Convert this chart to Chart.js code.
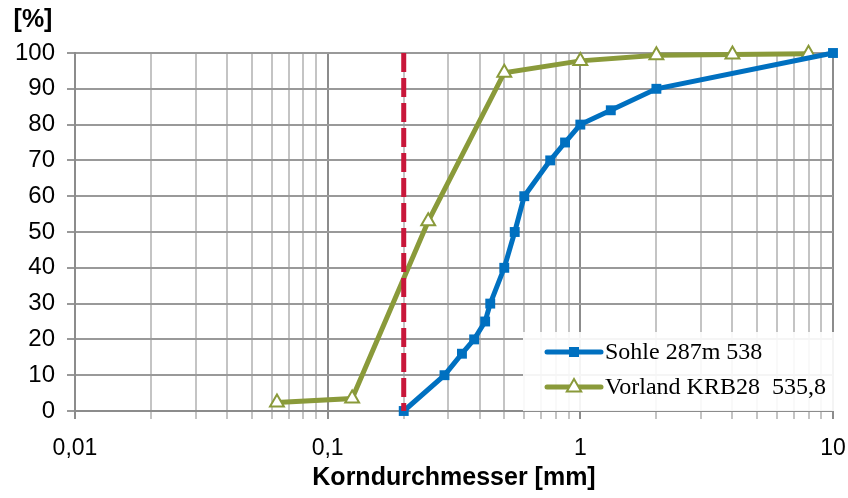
<!DOCTYPE html>
<html>
<head>
<meta charset="utf-8">
<script src="https://cdn.jsdelivr.net/npm/chart.js@4.4.1/dist/chart.umd.min.js"></script>
<style>
  html, body { margin: 0; padding: 0; background: #fff; }
  #wrap { width: 848px; height: 498px; }
</style>
</head>
<body>
<div id="wrap"><canvas id="c" width="848" height="498"></canvas></div>
<script>
// Grain size distribution (sieve curves)
const sohleLabel = 'Sohle 287m 538';
const sohleDiameter = [0.2, 0.29, 0.34, 0.38, 0.42, 0.44, 0.5, 0.55, 0.6, 0.76, 0.87, 1, 1.32, 2, 10];
const sohlePassing  = [0, 10, 16, 20, 25, 30, 40, 50, 60, 70, 75, 80, 84, 90, 100];

const vorlandLabel = 'Vorland KRB28  535,8';
const vorlandDiameter = [0.063, 0.125, 0.25, 0.5, 1, 2, 4, 8];
const vorlandPassing  = [2.4, 3.5, 53, 94.5, 97.8, 99.4, 99.6, 99.8];

// reference diameter marked with a dashed vertical line
const markerDiameter = [0.2, 0.2];
const markerPassing  = [100, 0];

const xTickValues = [0.01, 0.1, 1, 10];
const xTickLabels = ['0,01', '0,1', '1', '10'];

const BLUE = '#0070C0';
const GREEN = '#8A9A3A';
const RED = '#C8173A';

const toPoints = (xs, ys) => xs.map((x, i) => ({ x: x, y: ys[i] }));

// log gridlines: each decade plus 2..9 subdivisions
function logGridValues() {
  const vals = [];
  for (let d = 0; d < xTickValues.length - 1; d++) {
    const base = xTickValues[d];
    for (let m = 1; m <= 9; m++) vals.push(Number((base * m).toPrecision(6)));
  }
  vals.push(xTickValues[xTickValues.length - 1]);
  return vals;
}
const isDecade = v => xTickValues.some(t => Math.abs(t - v) < 1e-9);

const FONT = "'Liberation Sans', Arial, sans-serif";

const extras = {
  id: 'extras',
  afterDraw(chart) {
    const ctx = chart.ctx;
    ctx.save();
    ctx.fillStyle = '#000';
    ctx.font = 'bold 25px ' + FONT;
    ctx.textAlign = 'center';
    ctx.textBaseline = 'middle';
    ctx.fillText('[%]', 33, 20);
    ctx.restore();
  },
  afterDatasetsDraw(chart) {
    const ctx = chart.ctx;
    const box = { x: 523, y: 332, w: 315, h: 79 };
    ctx.save();
    ctx.fillStyle = 'rgba(255,255,255,0.9)';
    ctx.fillRect(box.x, box.y, box.w, box.h);
    [0, 1].forEach((di, k) => {
      const ds = chart.data.datasets[di];
      const cy = box.y + 20 + k * 35;
      const x0 = box.x + 24, x1 = box.x + 78;
      ctx.strokeStyle = ds.borderColor;
      ctx.lineWidth = ds.borderWidth;
      ctx.lineCap = 'round';
      ctx.beginPath();
      ctx.moveTo(x0, cy);
      ctx.lineTo(x1, cy);
      ctx.stroke();
      const cx = (x0 + x1) / 2;
      if (ds.pointStyle === 'rect') {
        ctx.fillStyle = ds.pointBackgroundColor;
        const s = 5;
        ctx.fillRect(cx - s, cy - s, 2 * s, 2 * s);
      } else {
        const r = 8;
        ctx.fillStyle = ds.pointBackgroundColor;
        ctx.strokeStyle = ds.pointBorderColor;
        ctx.lineWidth = ds.pointBorderWidth;
        ctx.beginPath();
        ctx.moveTo(cx, cy - r);
        ctx.lineTo(cx + r * 0.9, cy + r * 0.55);
        ctx.lineTo(cx - r * 0.9, cy + r * 0.55);
        ctx.closePath();
        ctx.fill();
        ctx.stroke();
      }
      ctx.fillStyle = '#000';
      ctx.font = "24px 'Liberation Serif', 'Times New Roman', serif";
      ctx.textAlign = 'left';
      ctx.textBaseline = 'middle';
      ctx.fillText(ds.label, x1 + 4, cy + 1);
    });
    ctx.restore();
  }
};

new Chart(document.getElementById('c'), {
  type: 'line',
  data: {
    datasets: [
      {
        label: sohleLabel,
        data: toPoints(sohleDiameter, sohlePassing),
        borderColor: BLUE,
        backgroundColor: BLUE,
        borderWidth: 5,
        pointStyle: 'rect',
        pointRadius: 7,
        pointBackgroundColor: BLUE,
        pointBorderColor: BLUE,
        pointBorderWidth: 0,
        tension: 0,
        clip: false,
        order: 2
      },
      {
        label: vorlandLabel,
        data: toPoints(vorlandDiameter, vorlandPassing),
        borderColor: GREEN,
        backgroundColor: GREEN,
        borderWidth: 5,
        pointStyle: 'triangle',
        pointRadius: 8,
        pointBackgroundColor: '#fff',
        pointBorderColor: GREEN,
        pointBorderWidth: 2,
        tension: 0,
        clip: false,
        order: 3
      },
      {
        label: 'marker',
        data: toPoints(markerDiameter, markerPassing),
        borderColor: RED,
        borderWidth: 5,
        borderDash: [19, 6],
        pointRadius: 0,
        tension: 0,
        order: 1
      }
    ]
  },
  options: {
    responsive: false,
    animation: false,
    layout: { padding: { left: 0, right: 15, top: 53, bottom: 0 } },
    plugins: {
      legend: { display: false },
      tooltip: { enabled: false }
    },
    scales: {
      x: {
        type: 'logarithmic',
        min: 0.01,
        max: 10,
        afterBuildTicks(scale) {
          scale.ticks = logGridValues().map(v => ({ value: v, major: isDecade(v) }));
        },
        afterFit(scale) {
          scale.height = 87;
          scale.paddingLeft = 0;
          scale.paddingRight = 0;
        },
        ticks: {
          autoSkip: false,
          maxRotation: 0,
          padding: 16,
          color: '#000',
          font: { family: FONT, size: 23 },
          callback(value) {
            const i = xTickValues.findIndex(t => Math.abs(t - value) < 1e-9);
            return i >= 0 ? xTickLabels[i] : '';
          }
        },
        grid: {
          color: ctx => (ctx.tick && isDecade(ctx.tick.value)) ? '#8c8c8c' : '#c4c4c4',
          tickColor: ctx => (ctx.tick && isDecade(ctx.tick.value)) ? '#8c8c8c' : '#c4c4c4',
          lineWidth: 2,
          tickLength: 8
        },
        border: { display: true, color: '#8c8c8c', width: 2 },
        title: {
          display: true,
          text: 'Korndurchmesser [mm]',
          color: '#000',
          font: { family: FONT, size: 25, weight: 'bold' },
          padding: { top: 0, bottom: 5 }
        }
      },
      y: {
        min: 0,
        max: 100,
        afterFit(scale) {
          scale.width = 75;
          scale.paddingTop = 0;
          scale.paddingBottom = 0;
        },
        ticks: {
          stepSize: 10,
          padding: 12,
          color: '#000',
          font: { family: FONT, size: 24 }
        },
        grid: {
          color: '#999999',
          tickColor: '#999999',
          lineWidth: 2,
          tickLength: 8
        },
        border: { display: true, color: '#8c8c8c', width: 2 }
      }
    }
  },
  plugins: [extras]
});
</script>
</body>
</html>
